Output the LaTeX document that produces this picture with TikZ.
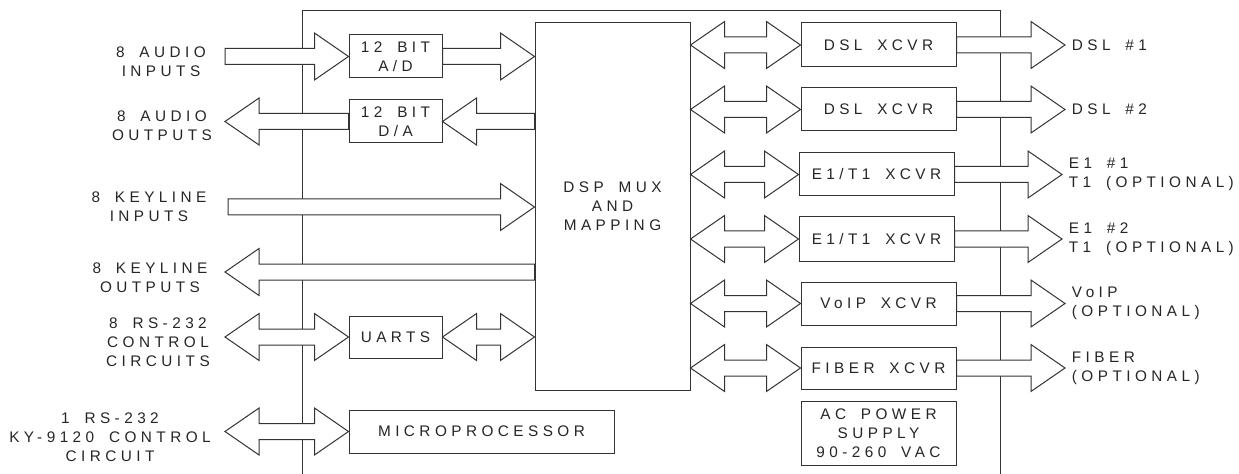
\documentclass[tikz,border=0pt]{standalone}
\usepackage{fontspec}
\setmainfont{Liberation Sans}[LetterSpace=29,WordSpace=1.7]
\usetikzlibrary{calc}
\newcommand\lblfont{\fontsize{11.5pt}{14.25pt}\selectfont}
% block-arrow dimensions
\newcommand\shaftw{6pt}
\newcommand\headw{17.6pt}
\newcommand\headl{25.5pt}
% hollow block arrow pointing right: #1 tail, #2 tip
\newcommand\blkR[2]{\path[blockarrow] let \p1=#1, \p2=#2 in
  (\x1,\y2+\shaftw) -- (\x2-\headl,\y2+\shaftw) -- (\x2-\headl,\y2+\headw) -- (\x2,\y2)
  -- (\x2-\headl,\y2-\headw) -- (\x2-\headl,\y2-\shaftw) -- (\x1,\y2-\shaftw) -- cycle;}
% hollow block arrow pointing left: #1 tail, #2 tip
\newcommand\blkL[2]{\path[blockarrow] let \p1=#1, \p2=#2 in
  (\x1,\y2+\shaftw) -- (\x2+\headl,\y2+\shaftw) -- (\x2+\headl,\y2+\headw) -- (\x2,\y2)
  -- (\x2+\headl,\y2-\headw) -- (\x2+\headl,\y2-\shaftw) -- (\x1,\y2-\shaftw) -- cycle;}
% hollow double-headed block arrow: #1 left tip, #2 right tip
\newcommand\blkLR[2]{\path[blockarrow] let \p1=#1, \p2=#2 in
  (\x1,\y2) -- (\x1+\headl,\y2+\headw) -- (\x1+\headl,\y2+\shaftw) -- (\x2-\headl,\y2+\shaftw)
  -- (\x2-\headl,\y2+\headw) -- (\x2,\y2) -- (\x2-\headl,\y2-\headw) -- (\x2-\headl,\y2-\shaftw)
  -- (\x1+\headl,\y2-\shaftw) -- (\x1+\headl,\y2-\headw) -- cycle;}
\begin{document}
\begin{tikzpicture}[x=0.75pt,y=-0.75pt,
  line/.style={draw=black!80,line width=0.75pt},
  box/.style={line,fill=white,inner sep=0pt,align=center,text=black!85,font=\lblfont},
  lbl/.style={inner sep=0pt,align=center,text=black!85,font=\lblfont},
  rlbl/.style={lbl,align=left,anchor=west,xshift=5pt},
  blockarrow/.style={line,fill=white,line join=miter}]
\useasboundingbox (0,0) rectangle (1239,474);

% unit enclosure
\draw[line] (302,474) -- (302,11) -- (1000,11) -- (1000,474);

% functional blocks
\node[box,minimum width=69.75pt,minimum height=32.25pt] (ad) at (395.5,56.5) {12 BIT\\A/D};
\node[box,minimum width=69.75pt,minimum height=32.25pt] (da) at (395.5,121.5) {12 BIT\\D/A};
\node[box,minimum width=69.75pt,minimum height=31.5pt] (uarts) at (395.5,337) {UARTS};
\node[box,minimum width=198.75pt,minimum height=32.25pt] (micro) at (481.5,431.5) {MICROPROCESSOR};
\node[box,minimum width=116.25pt,minimum height=275.25pt] (dsp) at (612.5,206.5) {DSP MUX\\AND\\MAPPING};
\node[box,minimum width=116.25pt,minimum height=33pt] (dsl1) at (878.5,45) {DSL XCVR};
\node[box,minimum width=116.25pt,minimum height=32.25pt] (dsl2) at (878.5,109.5) {DSL XCVR};
\node[box,minimum width=116.25pt,minimum height=32.25pt] (e1a) at (876.5,174.5) {E1/T1 XCVR};
\node[box,minimum width=116.25pt,minimum height=33pt] (e1b) at (876.5,239) {E1/T1 XCVR};
\node[box,minimum width=116.25pt,minimum height=32.25pt] (voip) at (878.5,303.5) {VoIP XCVR};
\node[box,minimum width=116.25pt,minimum height=31.5pt] (fiber) at (878.5,368) {FIBER XCVR};
\node[box,minimum width=116.25pt,minimum height=48pt] (ac) at (878.5,433) {AC POWER\\SUPPLY\\90-260 VAC};

% external ends of the interface arrows
\coordinate (ain) at (225,57);
\coordinate (aout) at (225,122);
\coordinate (kin) at (228,207);
\coordinate (kout) at (225,272);
\coordinate (rs) at (225,337);
\coordinate (ky) at (225,432);
\coordinate (o1) at (1065,45);
\coordinate (o2) at (1065,109.5);
\coordinate (o3) at (1062,174.5);
\coordinate (o4) at (1062,239);
\coordinate (o5) at (1065,303.5);
\coordinate (o6) at (1065,368);

% left-hand interfaces
\blkR{(ain)}{(ad.west)}
\blkR{(ad.east)}{(dsp.west |- ad.east)}
\blkL{(da.west)}{(aout |- da.west)}
\blkL{(dsp.west |- da.east)}{(da.east)}
\blkR{(kin)}{(dsp.west |- kin)}
\blkL{(dsp.west |- kout)}{(kout)}
\blkLR{(rs |- uarts.west)}{(uarts.west)}
\blkLR{(uarts.east)}{(dsp.west |- uarts.east)}
\blkLR{(ky |- micro.west)}{(micro.west)}

% right-hand transceivers
\blkLR{(dsp.east |- dsl1.west)}{(dsl1.west)}
\blkLR{(dsp.east |- dsl2.west)}{(dsl2.west)}
\blkLR{(dsp.east |- e1a.west)}{(e1a.west)}
\blkLR{(dsp.east |- e1b.west)}{(e1b.west)}
\blkLR{(dsp.east |- voip.west)}{(voip.west)}
\blkLR{(dsp.east |- fiber.west)}{(fiber.west)}
\blkR{(dsl1.east)}{(o1 |- dsl1.east)}
\blkR{(dsl2.east)}{(o2 |- dsl2.east)}
\blkR{(e1a.east)}{(o3 |- e1a.east)}
\blkR{(e1b.east)}{(o4 |- e1b.east)}
\blkR{(voip.east)}{(o5 |- voip.east)}
\blkR{(fiber.east)}{(o6 |- fiber.east)}

% interface labels
\node[lbl] (tain) at (161,62) {8 AUDIO\\INPUTS};
\node[lbl] (taout) at (162,126) {8 AUDIO\\OUTPUTS};
\node[lbl] (tkin) at (149,207) {8 KEYLINE\\INPUTS};
\node[lbl] (tkout) at (150,277.5) {8 KEYLINE\\OUTPUTS};
\node[lbl] (trs) at (158,342.5) {8 RS-232\\CONTROL\\CIRCUITS};
\node[lbl] (tky) at (110,437) {1 RS-232\\KY-9120 CONTROL\\CIRCUIT};
\node[rlbl] (to1) at (o1) {DSL \#1};
\node[rlbl] (to2) at (o2) {DSL \#2};
\node[rlbl] (to3) at (o3) {E1 \#1\\T1 (OPTIONAL)};
\node[rlbl] (to4) at (o4) {E1 \#2\\T1 (OPTIONAL)};
\node[rlbl] (to5) at (o5) {VoIP\\(OPTIONAL)};
\node[rlbl] (to6) at (o6) {FIBER\\(OPTIONAL)};
\end{tikzpicture}
\end{document}
